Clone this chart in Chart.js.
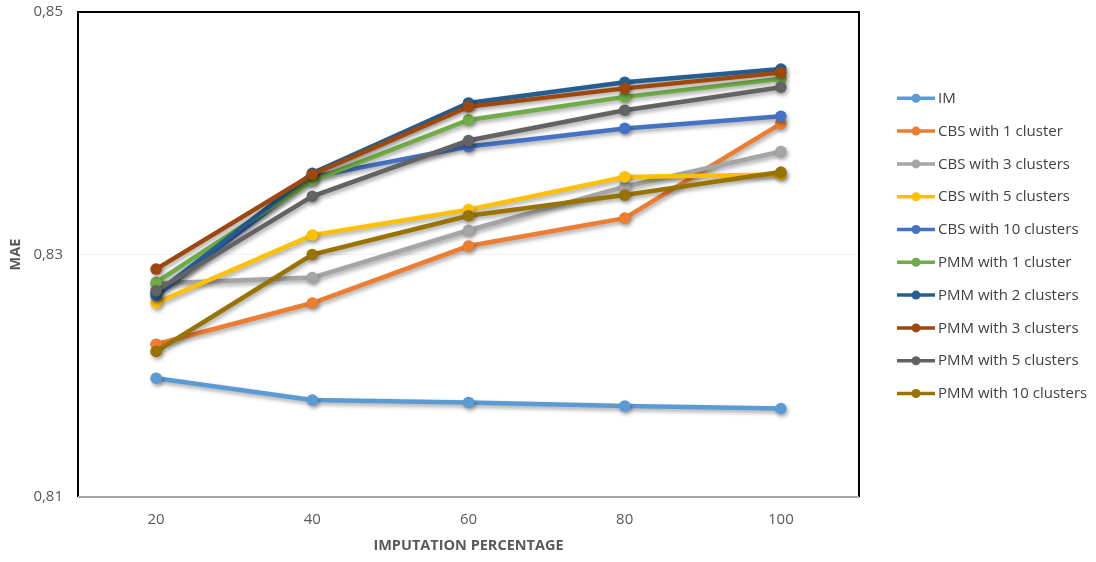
<!DOCTYPE html>
<html>
<head>
<meta charset="utf-8">
<script src="https://cdn.jsdelivr.net/npm/chart.js@4/dist/chart.umd.min.js"></script>
<style>
  html, body { margin: 0; padding: 0; background: #ffffff; }
  #wrap { width: 1096px; height: 562px; position: relative; }
</style>
</head>
<body>
<div id="wrap"><canvas id="c" width="1096" height="562"></canvas></div>
<script>
// Imputation percentage categories
const categories = ['20', '40', '60', '80', '100'];

// MAE per method
const im    = [0.8198, 0.8180, 0.8178, 0.8175, 0.8173];
const cbs1  = [0.8226, 0.8260, 0.8307, 0.8330, 0.8408];
const cbs3  = [0.8276, 0.8281, 0.8320, 0.8356, 0.8385];
const cbs5  = [0.8260, 0.8316, 0.8337, 0.8364, 0.8366];
const cbs10 = [0.8266, 0.8364, 0.8389, 0.8404, 0.8414];
const pmm1  = [0.8277, 0.8361, 0.8411, 0.8430, 0.8445];
const pmm2  = [0.8268, 0.8367, 0.8425, 0.8442, 0.8453];
const pmm3  = [0.8288, 0.8366, 0.8422, 0.8437, 0.8450];
const pmm5  = [0.8270, 0.8348, 0.8394, 0.8419, 0.8438];
const pmm10 = [0.8220, 0.8300, 0.8332, 0.8349, 0.8368];

const seriesNames = [
  'IM', 'CBS with 1 cluster', 'CBS with 3 clusters', 'CBS with 5 clusters',
  'CBS with 10 clusters', 'PMM with 1 cluster', 'PMM with 2 clusters',
  'PMM with 3 clusters', 'PMM with 5 clusters', 'PMM with 10 clusters'
];
const seriesValues = [im, cbs1, cbs3, cbs5, cbs10, pmm1, pmm2, pmm3, pmm5, pmm10];
const seriesColors = [
  '#5B9BD5', '#ED7D31', '#A5A5A5', '#FFC000', '#4472C4',
  '#70AD47', '#255E91', '#9E480E', '#636363', '#997300'
];

// Y axis ticks
const yTicks = [0.81, 0.83, 0.85];

const TEXT = '#595959';
const FONT = '"Open Sans", "Liberation Sans", sans-serif';

const datasets = seriesNames.map((name, i) => ({
  label: name,
  data: seriesValues[i],
  borderColor: seriesColors[i],
  backgroundColor: seriesColors[i],
  pointBackgroundColor: seriesColors[i],
  pointBorderColor: seriesColors[i],
  borderWidth: 4.5,
  pointRadius: 5.8,
  pointBorderWidth: 0,
  pointHoverRadius: 5.8,
  tension: 0,
  fill: false,
  order: seriesNames.length - i   // later series drawn on top
}));

// Soft drop shadow under each series
const shadowPlugin = {
  id: 'seriesShadow',
  beforeDatasetDraw(chart) {
    const ctx = chart.ctx;
    ctx.save();
    ctx.shadowColor = 'rgba(0,0,0,0.35)';
    ctx.shadowBlur = 4;
    ctx.shadowOffsetX = 1.5;
    ctx.shadowOffsetY = 2.5;
  },
  afterDatasetDraw(chart) {
    chart.ctx.restore();
  }
};

// Plot frame: dark on top/left/right, grey axis line at the bottom
const framePlugin = {
  id: 'plotFrame',
  afterDatasetsDraw(chart) {
    const {ctx, chartArea: a} = chart;
    ctx.save();
    ctx.lineWidth = 2;
    ctx.strokeStyle = '#000000';
    ctx.beginPath();
    ctx.moveTo(a.left, a.bottom);
    ctx.lineTo(a.left, a.top);
    ctx.lineTo(a.right, a.top);
    ctx.lineTo(a.right, a.bottom);
    ctx.stroke();
    ctx.strokeStyle = '#A6A6A6';
    ctx.lineWidth = 2;
    ctx.beginPath();
    ctx.moveTo(a.left, a.bottom);
    ctx.lineTo(a.right, a.bottom);
    ctx.stroke();
    ctx.restore();
  }
};

// Legend drawn beside the plot: line sample with marker, then the name
const legendPlugin = {
  id: 'sideLegend',
  afterDraw(chart) {
    const ctx = chart.ctx;
    const x0 = chart.chartArea.right + 38;
    const y0 = 98.3;
    const step = 32.8;
    ctx.save();
    chart.data.datasets.forEach((ds, i) => {
      const y = y0 + i * step;
      ctx.strokeStyle = ds.borderColor;
      ctx.fillStyle = ds.borderColor;
      ctx.lineWidth = 3.5;
      ctx.beginPath();
      ctx.moveTo(x0, y);
      ctx.lineTo(x0 + 38, y);
      ctx.stroke();
      ctx.beginPath();
      ctx.arc(x0 + 19, y, 4.5, 0, Math.PI * 2);
      ctx.fill();
      ctx.fillStyle = '#404040';
      ctx.font = '15px ' + FONT;
      ctx.textAlign = 'left';
      ctx.textBaseline = 'middle';
      ctx.fillText(ds.label, x0 + 41, y + 0.5);
    });
    ctx.restore();
  }
};

new Chart(document.getElementById('c'), {
  type: 'line',
  data: { labels: categories, datasets },
  plugins: [shadowPlugin, framePlugin, legendPlugin],
  options: {
    responsive: false,
    animation: false,
    devicePixelRatio: 1,
    layout: { padding: { left: 0, right: 237, top: 12, bottom: 0 } },
    plugins: {
      legend: { display: false },
      tooltip: { enabled: false }
    },
    elements: { line: { capBezierPoints: false } },
    scales: {
      x: {
        type: 'category',
        offset: true,
        grid: { display: false, drawTicks: false },
        border: { display: false },
        ticks: { color: TEXT, font: { family: FONT, size: 15 }, padding: 14 },
        title: {
          display: true, text: 'IMPUTATION PERCENTAGE', color: TEXT,
          font: { family: FONT, size: 14.5, weight: 'bold' },
          padding: { top: 0, bottom: 7 }
        },
        afterFit(scale) { scale.height = 65; }
      },
      y: {
        min: 0.81,
        max: 0.85,
        afterBuildTicks(scale) { scale.ticks = yTicks.map(v => ({ value: v })); },
        grid: { color: '#F2F2F2', drawTicks: false, lineWidth: 1 },
        border: { display: false },
        ticks: {
          color: TEXT, font: { family: FONT, size: 15 }, padding: 15,
          callback: v => v.toFixed(2).replace('.', ',')
        },
        title: {
          display: true, text: 'MAE', color: TEXT,
          font: { family: FONT, size: 14.5, weight: 'bold' },
          padding: { top: 7, bottom: 0 }
        },
        afterFit(scale) {
          scale.width = 78;
          scale.paddingTop = 0;
          scale.paddingBottom = 0;
        }
      }
    }
  }
});
</script>
</body>
</html>
